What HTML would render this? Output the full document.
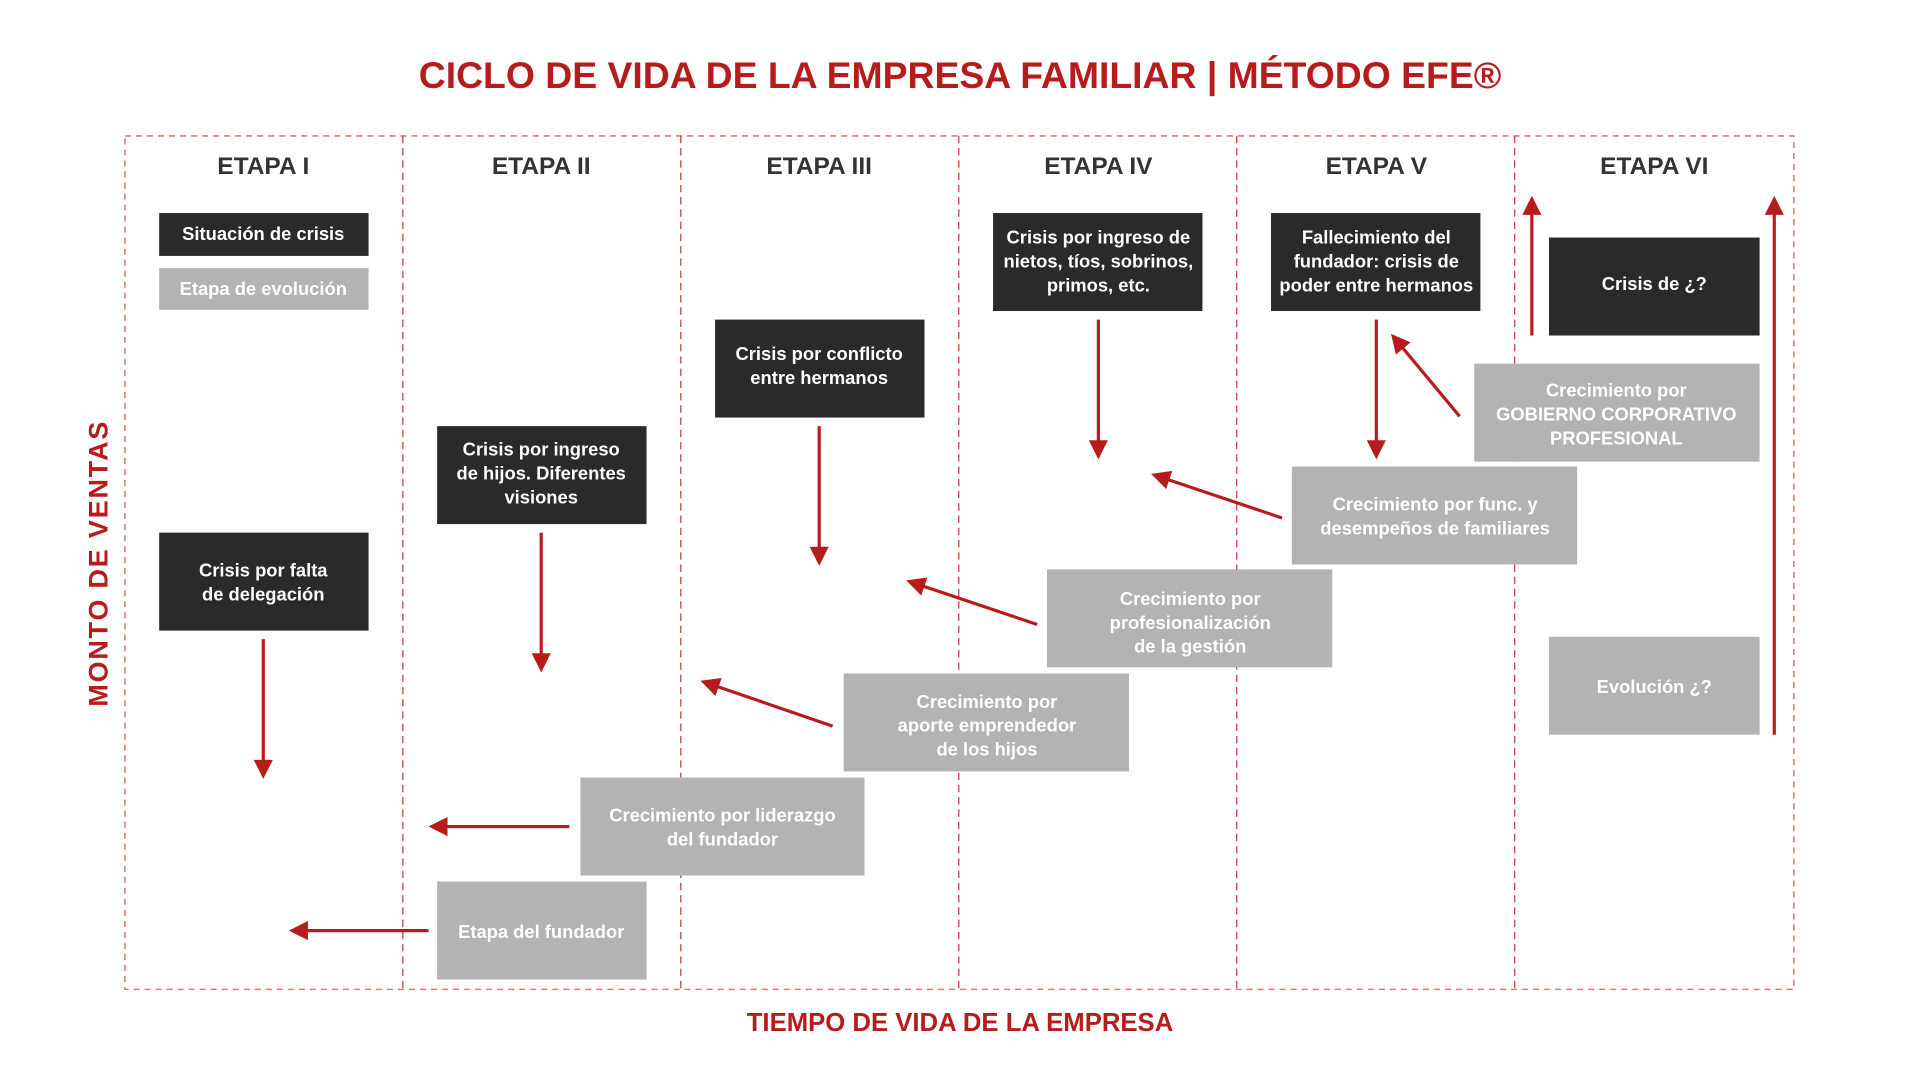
<!DOCTYPE html>
<html><head><meta charset="utf-8"><style>
html,body{margin:0;padding:0;background:#fff;width:1920px;height:1080px;overflow:hidden}
svg{display:block}
text{font-family:"Liberation Sans",sans-serif;font-weight:bold}
.w{fill:#fff;font-size:15px;text-anchor:middle}
.h{fill:#333;font-size:20px;text-anchor:middle}
</style></head><body>
<svg width="1920" height="1080" viewBox="0 0 1568 882" preserveAspectRatio="none" xmlns="http://www.w3.org/2000/svg">
<defs><marker id="a" viewBox="0 0 10 10" refX="8" refY="5" markerWidth="6.5" markerHeight="6" orient="auto" markerUnits="strokeWidth"><path d="M0,0L10,5L0,10z" fill="#b71c1c"/></marker></defs>
<text x="784" y="72" text-anchor="middle" font-size="30.5" fill="#b71c1c">CICLO DE VIDA DE LA EMPRESA FAMILIAR | MÉTODO EFE®</text>
<rect x="102" y="111" width="1363" height="697" fill="none" stroke="#e07a7a" stroke-width="1.3" stroke-dasharray="5,4"/>
<g stroke="#c0393b" stroke-width="1" stroke-dasharray="6,4">
<line x1="329" y1="111" x2="329" y2="808"/><line x1="556" y1="111" x2="556" y2="808"/><line x1="783" y1="111" x2="783" y2="808"/><line x1="1010" y1="111" x2="1010" y2="808"/><line x1="1237" y1="111" x2="1237" y2="808"/></g>
<text class="h" x="215" y="142">ETAPA I</text><text class="h" x="442" y="142">ETAPA II</text><text class="h" x="669" y="142">ETAPA III</text><text class="h" x="897" y="142">ETAPA IV</text><text class="h" x="1124" y="142">ETAPA V</text><text class="h" x="1351" y="142">ETAPA VI</text>
<g fill="#2a2a2a">
<rect x="130" y="174" width="171" height="35"/><rect x="130" y="435" width="171" height="80"/><rect x="357" y="348" width="171" height="80"/><rect x="584" y="261" width="171" height="80"/><rect x="811" y="174" width="171" height="80"/><rect x="1038" y="174" width="171" height="80"/><rect x="1265" y="194" width="172" height="80"/></g>
<g fill="#b3b3b3">
<rect x="130" y="219" width="171" height="34"/><rect x="357" y="720" width="171" height="80"/><rect x="474" y="635" width="232" height="80"/><rect x="689" y="550" width="233" height="80"/><rect x="855" y="465" width="233" height="80"/><rect x="1055" y="381" width="233" height="80"/><rect x="1204" y="297" width="233" height="80"/><rect x="1265" y="520" width="172" height="80"/></g>
<text class="w" x="215" y="196">Situación de crisis</text>
<text class="w" x="215" y="241" fill="#eee">Etapa de evolución</text>
<text class="w" x="215" y="471">Crisis por falta<tspan x="215" dy="19.5">de delegación</tspan></text>
<text class="w" x="442" y="372">Crisis por ingreso<tspan x="442" dy="19.5">de hijos. Diferentes</tspan><tspan x="442" dy="19.5">visiones</tspan></text>
<text class="w" x="669" y="294">Crisis por conflicto<tspan x="669" dy="19.5">entre hermanos</tspan></text>
<text class="w" x="897" y="199">Crisis por ingreso de<tspan x="897" dy="19.5">nietos, tíos, sobrinos,</tspan><tspan x="897" dy="19.5">primos, etc.</tspan></text>
<text class="w" x="1124" y="199">Fallecimiento del<tspan x="1124" dy="19.5">fundador: crisis de</tspan><tspan x="1124" dy="19.5">poder entre hermanos</tspan></text>
<text class="w" x="1351" y="237">Crisis de ¿?</text>
<text class="w" x="442" y="766">Etapa del fundador</text>
<text class="w" x="590" y="671">Crecimiento por liderazgo<tspan x="590" dy="19.5">del fundador</tspan></text>
<text class="w" x="806" y="578">Crecimiento por<tspan x="806" dy="19.5">aporte emprendedor</tspan><tspan x="806" dy="19.5">de los hijos</tspan></text>
<text class="w" x="972" y="494">Crecimiento por<tspan x="972" dy="19.5">profesionalización</tspan><tspan x="972" dy="19.5">de la gestión</tspan></text>
<text class="w" x="1172" y="417">Crecimiento por func. y<tspan x="1172" dy="19.5">desempeños de familiares</tspan></text>
<text class="w" x="1320" y="324">Crecimiento por<tspan x="1320" dy="19.5">GOBIERNO CORPORATIVO</tspan><tspan x="1320" dy="19.5">PROFESIONAL</tspan></text>
<text class="w" x="1351" y="566">Evolución ¿?</text>
<g stroke="#b71c1c" stroke-width="2.6" marker-end="url(#a)" fill="none">
<line x1="215" y1="522" x2="215" y2="633"/><line x1="442" y1="435" x2="442" y2="546"/><line x1="669" y1="348" x2="669" y2="459"/><line x1="897" y1="261" x2="897" y2="372"/><line x1="1124" y1="261" x2="1124" y2="372"/>
<line x1="350" y1="760" x2="239" y2="760"/><line x1="465" y1="675" x2="353" y2="675"/>
<line x1="680" y1="593" x2="575" y2="557"/><line x1="847" y1="510" x2="743" y2="475"/><line x1="1047" y1="423" x2="943" y2="388"/><line x1="1192" y1="340" x2="1138" y2="275"/>
<line x1="1251" y1="274" x2="1251" y2="163"/><line x1="1449" y1="600" x2="1449" y2="163"/></g>
<text x="88" y="460" transform="rotate(-90 88 460)" text-anchor="middle" font-size="22" letter-spacing="1.5" fill="#b71c1c">MONTO DE VENTAS</text>
<text x="784" y="842" text-anchor="middle" font-size="21" fill="#b71c1c">TIEMPO DE VIDA DE LA EMPRESA</text>
</svg>
</body></html>
